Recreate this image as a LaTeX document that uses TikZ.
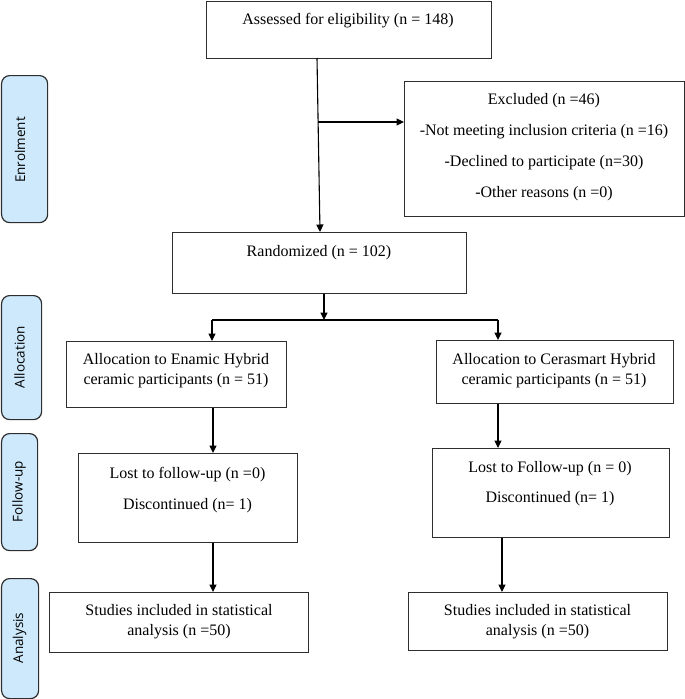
\documentclass[tikz,border=0pt]{standalone}
\usepackage{fontspec}
\setmainfont{Liberation Serif}
\newfontfamily\sidefont{Open Sans}
\usetikzlibrary{arrows.meta}
\definecolor{sideblue}{HTML}{CDE9FB}
\definecolor{edge}{HTML}{2E2E2E}
\begin{document}
\begin{tikzpicture}[x=1pt,y=-1pt,
  box/.style={draw=edge, line width=1.1pt, anchor=north west, inner sep=0pt},
  txt/.style={font=\fontsize{16}{20}\selectfont, align=center, inner sep=0pt},
  side/.style={draw=edge, fill=sideblue, rounded corners=8pt, line width=1.2pt, anchor=north west, inner sep=0pt},
  sidetxt/.style={font=\sidefont\fontsize{13.5}{16}\selectfont, rotate=90, inner sep=0pt},
  arr/.style={draw=black, line width=1.1pt, -{Triangle[length=7.5pt,width=7pt]}},
  ln/.style={draw=black, line width=1.1pt}]
\useasboundingbox (0,0) rectangle (685,699);

% side labels
\node[side, minimum width=46pt, minimum height=147pt] (enr) at (1,75) {};
\node[sidetxt] (enrt) at (20,150) {Enrolment};
\node[side, minimum width=40pt, minimum height=124pt] (alo) at (1,295) {};
\node[sidetxt] (alot) at (19.5,357) {Allocation};
\node[side, minimum width=36pt, minimum height=117pt] (fu) at (1,433) {};
\node[sidetxt] (fut) at (19,491.5) {Follow-up};
\node[side, minimum width=37pt, minimum height=120pt] (an) at (1,578) {};
\node[sidetxt] (ant) at (19.5,638) {Analysis};

% boxes
\node[box, minimum width=285pt, minimum height=57pt] (ass) at (206,1) {};
\node[txt] (asst) at (348,21) {Assessed for eligibility (n = 148)};

\node[box, minimum width=280pt, minimum height=135pt] (exc) at (404,81) {};
\node[txt, font=\fontsize{16}{31}\selectfont] (exct) at (544,147.5) {Excluded (n =46)\\-Not meeting inclusion criteria (n =16)\\-Declined to participate (n=30)\\-Other reasons (n =0)};

\node[box, minimum width=294pt, minimum height=61pt] (rand) at (172,232) {};
\node[txt] (randt) at (319,253) {Randomized (n = 102)};

\node[box, minimum width=220pt, minimum height=66pt] (la) at (66,341) {};
\node[txt] (lat) at (176,371) {Allocation to Enamic Hybrid\\ceramic participants (n = 51)};

\node[box, minimum width=237pt, minimum height=63pt] (ra) at (436,340) {};
\node[txt] (rat) at (554,371) {Allocation to Cerasmart Hybrid\\ceramic participants (n = 51)};

\node[box, minimum width=219pt, minimum height=89pt] (lf) at (78,453) {};
\node[txt, font=\fontsize{16}{31}\selectfont] (lft) at (187.5,490.5) {Lost to follow-up (n =0)\\Discontinued (n= 1)};

\node[box, minimum width=237pt, minimum height=89pt] (rf) at (432,448) {};
\node[txt, font=\fontsize{16}{30}\selectfont] (rft) at (550,484) {Lost to Follow-up (n = 0)\\Discontinued (n= 1)};

\node[box, minimum width=259pt, minimum height=60pt] (lan) at (49,592) {};
\node[txt] (lant) at (179,622) {Studies included in statistical\\analysis (n =50)};

\node[box, minimum width=259pt, minimum height=58pt] (ran) at (408,592) {};
\node[txt] (rant) at (537.5,622) {Studies included in statistical\\analysis (n =50)};

% connectors
\coordinate (v1) at (317,58);
\coordinate (v2) at (320,232);
\coordinate (br) at (318,122);
\draw[arr] (v1) -- (v2);
\draw[arr] (br) -- (exc.west |- br);

\coordinate (s) at (324,320);
\draw[arr] (rand.south -| s) -- (s);
\coordinate (hl) at (212,320);
\coordinate (hr) at (498,320);
\draw[ln] (hl) -- (hr);
\draw[arr] (hl) -- (la.north -| hl);
\draw[arr] (hr) -- (ra.north -| hr);

\coordinate (c1) at (213,0);
\draw[arr] (la.south -| c1) -- (lf.north -| c1);
\draw[arr] (lf.south -| c1) -- (lan.north -| c1);
\coordinate (c2) at (498,0);
\draw[arr] (ra.south -| c2) -- (rf.north -| c2);
\coordinate (c3) at (502,0);
\draw[arr] (rf.south -| c3) -- (ran.north -| c3);
\end{tikzpicture}
\end{document}
